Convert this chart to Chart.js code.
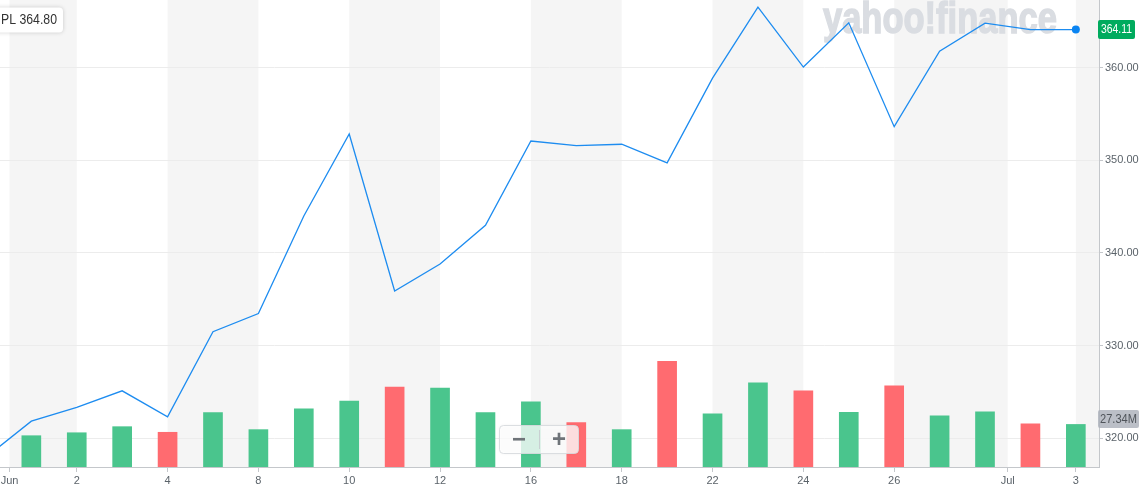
<!DOCTYPE html>
<html>
<head>
<meta charset="utf-8">
<script src="https://cdn.jsdelivr.net/npm/chart.js@4/dist/chart.umd.min.js"></script>
<style>
    html, body { margin: 0; padding: 0; background: #fff; }
    .chart-box { position: relative; width: 1142px; height: 491px; }
</style>
</head>
<body>
<div class="chart-box"><canvas id="priceChart"></canvas></div>
<script>
// дни торгов (Jun 1 = 0, May 29 = -1)
const days = ['May 29', 'Jun 1', 'Jun 2', 'Jun 3', 'Jun 4', 'Jun 5', 'Jun 8', 'Jun 9', 'Jun 10', 'Jun 11', 'Jun 12',
    'Jun 15', 'Jun 16', 'Jun 17', 'Jun 18', 'Jun 19', 'Jun 22', 'Jun 23', 'Jun 24', 'Jun 25', 'Jun 26',
    'Jun 29', 'Jun 30', 'Jul 1', 'Jul 2'];
const closes = [317.94, 321.85, 323.34, 325.12, 322.32, 331.50, 333.46, 343.99, 352.84, 335.90, 338.80,
    342.99, 352.08, 351.59, 351.73, 349.72, 358.87, 366.53, 360.06, 364.84, 353.63,
    361.78, 364.80, 364.11, 364.11];
// объём, млн
const volumes = [null, 20.1, 22.0, 25.9, 22.3, 34.9, 24.0, 37.4, 42.4, 51.4, 50.7,
    34.9, 41.9, 28.5, 24.0, 67.9, 34.2, 54.1, 49.0, 35.1, 52.2,
    32.8, 35.5, 27.8, 27.34];

const tickDays = [-0.48, 1, 3, 5, 7, 9, 11, 13, 15, 17, 19, 21.5, 23];
const tickLabels = ['Jun', '2', '4', '8', '10', '12', '16', '18', '22', '24', '26', 'Jul', '3'];
const priceTicks = [320, 330, 340, 350, 360];

const symbolLabel = 'PL 364.80';
const lastVolumeLabel = '27.34M';
const watermark = 'yahoo!finance';

const GREEN = 'rgb(74, 197, 141)';
const RED = 'rgb(255, 107, 112)';
const FONT = '"Liberation Sans", Arial, sans-serif';

const linePoints = closes.map((c, i) => ({ x: i - 1, y: c }));
const volumePoints = volumes.map((v, i) => ({ x: i - 1, y: v }));
const volumeColors = closes.map((c, i) => (i > 0 && c < closes[i - 1]) ? RED : GREEN);
const lastIndex = closes.length - 1;

function roundRect(ctx, x, y, w, h, r) {
    ctx.beginPath();
    ctx.moveTo(x + r, y);
    ctx.arcTo(x + w, y, x + w, y + h, r);
    ctx.arcTo(x + w, y + h, x, y + h, r);
    ctx.arcTo(x, y + h, x, y, r);
    ctx.arcTo(x, y, x + w, y, r);
    ctx.closePath();
}

// серые полосы между подписями
const bandsPlugin = {
    id: 'bands',
    beforeDraw(chart) {
        const { ctx, chartArea, scales } = chart;
        ctx.save();
        ctx.fillStyle = '#f5f5f5';
        tickDays.forEach((d, k) => {
            if (k % 2 !== 0) return;
            const x1 = scales.x.getPixelForValue(d);
            const x2 = k + 1 < tickDays.length ? scales.x.getPixelForValue(tickDays[k + 1]) : chartArea.right;
            ctx.fillRect(x1, chartArea.top, x2 - x1, chartArea.bottom - chartArea.top);
        });
        ctx.restore();
    },
    beforeDatasetsDraw(chart) {
        const { ctx } = chart;
        ctx.save();
        let size = 34;
        ctx.font = `bold ${size}px ${FONT}`;
        const w = ctx.measureText(watermark).width;
        size = size * 234 / w;
        ctx.font = `bold ${size}px ${FONT}`;
        ctx.fillStyle = '#dadde2';
        ctx.strokeStyle = '#dadde2';
        ctx.lineWidth = 1.2;
        ctx.textBaseline = 'alphabetic';
        ctx.translate(823, 33);
        ctx.scale(1, 1.3);
        ctx.fillText(watermark, 0, 0);
        ctx.strokeText(watermark, 0, 0);
        ctx.restore();
    },
    afterDraw(chart) {
        const { ctx, scales } = chart;
        ctx.save();

        // AAPL box
        ctx.shadowColor = 'rgba(0,0,0,0.18)';
        ctx.shadowBlur = 4;
        ctx.fillStyle = '#fff';
        roundRect(ctx, -6, 7.5, 69, 25, 4);
        ctx.fill();
        ctx.shadowBlur = 0;
        ctx.shadowColor = 'transparent';
        ctx.fillStyle = '#333';
        ctx.font = `14px ${FONT}`;
        ctx.textBaseline = 'middle';
        ctx.fillText(symbolLabel, 1, 20.5, 56);

        // цена последнего закрытия
        const lastY = scales.y.getPixelForValue(closes[lastIndex]);
        ctx.fillStyle = '#00ab5e';
        roundRect(ctx, 1098, lastY - 9.5, 37, 19, 2);
        ctx.fill();
        ctx.fillStyle = '#fff';
        ctx.font = `12px ${FONT}`;
        ctx.textAlign = 'center';
        ctx.fillText(closes[lastIndex].toFixed(2), 1116.5, lastY + 0.5, 31);

        // объём
        const volY = scales.y2.getPixelForValue(volumes[lastIndex]) - 5.5;
        ctx.fillStyle = 'rgba(170, 175, 185, 0.8)';
        roundRect(ctx, 1098, volY - 9, 41, 18, 2);
        ctx.fill();
        ctx.fillStyle = '#4f545a';
        ctx.font = `12px ${FONT}`;
        ctx.fillText(lastVolumeLabel, 1118.5, volY + 0.5, 37);

        // кнопки зума
        ctx.fillStyle = 'rgba(255,255,255,0.78)';
        ctx.strokeStyle = 'rgba(215,218,222,0.9)';
        ctx.lineWidth = 1;
        ctx.shadowColor = 'rgba(0,0,0,0.08)';
        ctx.shadowBlur = 3;
        roundRect(ctx, 499.5, 425.5, 79, 28, 4);
        ctx.fill();
        ctx.shadowBlur = 0;
        ctx.shadowColor = 'transparent';
        ctx.stroke();
        ctx.strokeStyle = 'rgba(200,203,207,0.9)';
        ctx.beginPath();
        ctx.moveTo(539.5, 430);
        ctx.lineTo(539.5, 449);
        ctx.stroke();
        ctx.fillStyle = '#6f7479';
        ctx.font = `bold 24px ${FONT}`;
        ctx.fillText('\u2212', 519, 440);
        ctx.fillText('+', 559, 440);

        ctx.restore();
    }
};

const ctx = document.getElementById('priceChart').getContext('2d');
const chartInstance = new Chart(ctx, {
    type: 'line',
    data: {
        datasets: [{
            type: 'line',
            label: 'Close',
            data: linePoints,
            yAxisID: 'y',
            borderColor: '#1d8cf0',
            borderWidth: 1.3,
            tension: 0,
            pointRadius: c => c.dataIndex === lastIndex ? 4 : 0,
            pointBackgroundColor: '#0a84f2',
            pointBorderWidth: 0,
            order: 0
        }, {
            type: 'bar',
            label: 'Volume',
            data: volumePoints,
            yAxisID: 'y2',
            backgroundColor: volumeColors,
            barThickness: 19,
            order: 1
        }]
    },
    options: {
        responsive: true,
        maintainAspectRatio: false,
        animation: false,
        layout: { padding: 0, autoPadding: false },
        plugins: {
            legend: { display: false },
            tooltip: { enabled: false }
        },
        scales: {
            x: {
                type: 'linear',
                offset: false,
                min: -0.69,
                max: 23.51,
                afterBuildTicks: s => { s.ticks = tickDays.map(v => ({ value: v })); },
                afterFit: s => { s.height = 24; s.paddingLeft = 0; s.paddingRight = 0; },
                ticks: {
                    autoSkip: false,
                    maxRotation: 0,
                    padding: 2,
                    color: '#5b636a',
                    font: { family: FONT, size: 11 },
                    callback: (v, i) => tickLabels[i]
                },
                grid: { drawOnChartArea: false, offset: false, tickLength: 5, color: '#c4c7cb' },
                border: { color: '#c4c7cb', width: 1 }
            },
            y: {
                position: 'right',
                min: 316.9,
                max: 367.3,
                afterBuildTicks: s => { s.ticks = priceTicks.map(v => ({ value: v })); },
                afterFit: s => { s.width = 43; s.paddingTop = 0; s.paddingBottom = 0; },
                ticks: {
                    padding: 2,
                    color: '#5b636a',
                    font: { family: FONT, size: 11 },
                    callback: v => v.toFixed(2)
                },
                grid: { color: '#ececec', tickLength: 4, tickColor: '#c4c7cb' },
                border: { color: '#c4c7cb', width: 1 }
            },
            y2: {
                display: false,
                min: 0,
                max: 300
            }
        }
    },
    plugins: [bandsPlugin]
});
</script>
</body>
</html>
